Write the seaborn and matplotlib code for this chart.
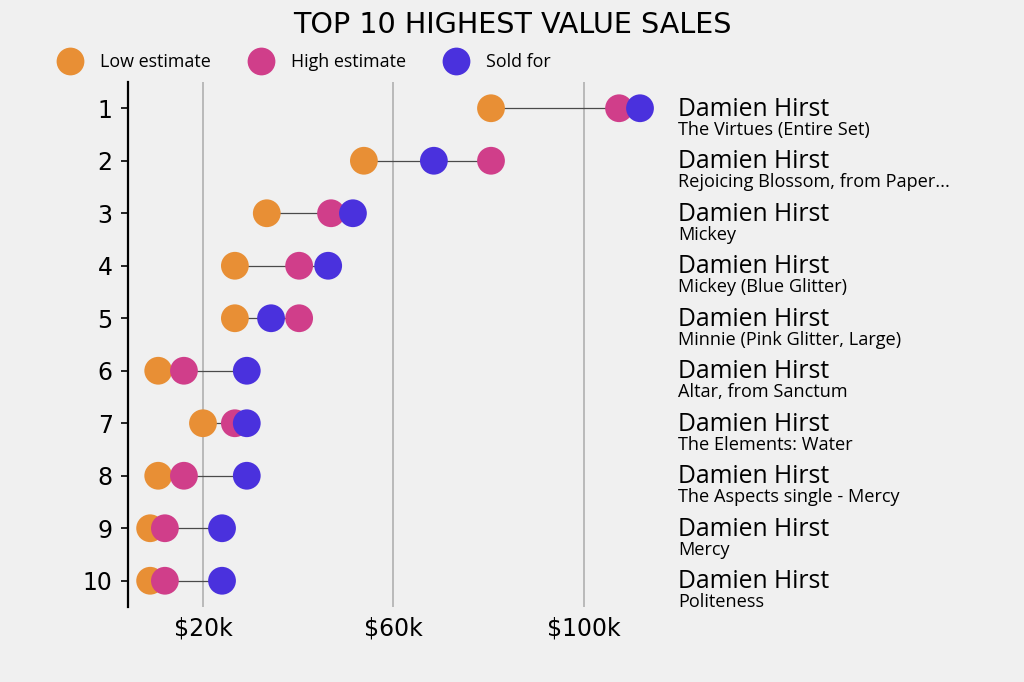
import matplotlib
matplotlib.use("Agg")
import matplotlib.pyplot as plt
from matplotlib.lines import Line2D
import seaborn as sns
import pandas as pd

ranks = [1, 2, 3, 4, 5, 6, 7, 8, 9, 10]
artists = ["Damien Hirst"] * 10
titles = ["The Virtues (Entire Set)", "Rejoicing Blossom, from Paper...", "Mickey",
          "Mickey (Blue Glitter)", "Minnie (Pink Glitter, Large)", "Altar, from Sanctum",
          "The Elements: Water", "The Aspects single - Mercy", "Mercy", "Politeness"]
low_k = [80.5, 53.8, 33.4, 26.7, 26.7, 10.6, 20.0, 10.6, 8.9, 8.9]
high_k = [107.4, 80.5, 46.9, 40.2, 40.2, 16.0, 26.7, 16.0, 12.0, 12.0]
sold_k = [111.8, 68.5, 51.5, 46.3, 34.3, 29.2, 29.2, 29.2, 24.0, 24.0]
series = ["Low estimate", "High estimate", "Sold for"]
xticks_k = [20, 60, 100]
xtick_labels = ["$20k", "$60k", "$100k"]

colors = {"Low estimate": "#E88F35", "High estimate": "#D03E8A", "Sold for": "#4A31DD"}
bg = "#F0F0F0"
label_font = "Open Sans"

rows = []
for name, vals in zip(series, [low_k, high_k, sold_k]):
    for r, v in zip(ranks, vals):
        rows.append({"rank": r, "value": v, "series": name})
df = pd.DataFrame(rows)

sns.set_theme(style="white")
plt.rcParams["font.family"] = ["DejaVu Sans"]
plt.rcParams["text.color"] = "black"
plt.rcParams["xtick.color"] = "black"
plt.rcParams["ytick.color"] = "black"

fig = plt.figure(figsize=(10.24, 6.82), dpi=100, facecolor=bg)
ax = fig.add_axes([128 / 1024, 1 - 607 / 682, (660 - 128) / 1024, (607 - 82) / 682])
ax.set_facecolor(bg)

for x in xticks_k:
    ax.axvline(x, color="#b5b5b5", lw=1.3, zorder=0)

mins = [min(a, b, c) for a, b, c in zip(low_k, high_k, sold_k)]
maxs = [max(a, b, c) for a, b, c in zip(low_k, high_k, sold_k)]
ax.hlines(ranks, mins, maxs, color="#4a4a4a", lw=0.9, zorder=1)

sns.scatterplot(data=df, x="value", y="rank", hue="series", palette=colors,
                s=400, linewidth=0, ax=ax, legend=False, zorder=3)

ax.set_xlim(4.25, 116)
ax.set_ylim(10.5, 0.5)
ax.set_xticks(xticks_k)
ax.set_xticklabels(xtick_labels, fontsize=17)
ax.set_yticks(ranks)
ax.set_yticklabels([str(r) for r in ranks], fontsize=17)
ax.tick_params(axis="x", length=0, pad=7)
ax.tick_params(axis="y", length=5, width=1.2, color="black", left=True, pad=6)
ax.set_xlabel("")
ax.set_ylabel("")
for s in ["top", "right", "bottom"]:
    ax.spines[s].set_visible(False)
ax.spines["left"].set_color("black")
ax.spines["left"].set_linewidth(1.6)

for r, a, t in zip(ranks, artists, titles):
    ax.annotate(a, xy=(1.0, r), xycoords=("axes fraction", "data"), xytext=(13, -5.5),
                textcoords="offset points", fontsize=17.8, family=label_font,
                va="baseline", ha="left", color="black")
    ax.annotate(t, xy=(1.0, r), xycoords=("axes fraction", "data"), xytext=(13, -19),
                textcoords="offset points", fontsize=13.1, family=label_font,
                va="baseline", ha="left", color="black")

fig.text(0.5, 1 - 25 / 682, "TOP 10 HIGHEST VALUE SALES", ha="center", va="center",
         fontsize=20.6, color="black")

handles = [Line2D([0], [0], marker="o", linestyle="", markersize=20,
                  markerfacecolor=colors[s], markeredgewidth=0) for s in series]
leg = fig.legend(handles, series, loc="center left", bbox_to_anchor=(36 / 1024, 1 - 62 / 682),
                 ncol=3, frameon=False, handletextpad=0.68, columnspacing=1.78,
                 prop={"family": label_font, "size": 12.9})

fig.savefig("out.png", dpi=100, facecolor=bg)
